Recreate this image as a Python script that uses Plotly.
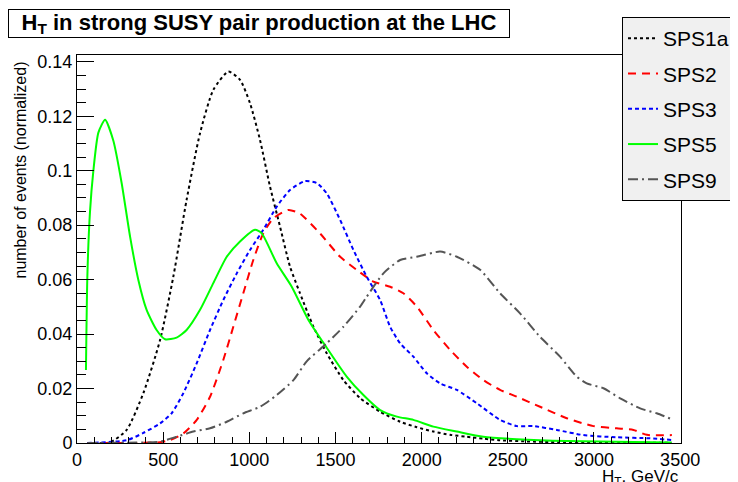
import plotly.graph_objects as go

# ---------------- data ----------------
sps1a_x = [60, 190, 288, 385, 482, 559, 636, 714, 791, 878, 946, 1004, 1062, 1120, 1178, 1236, 1294,
           1372, 1449, 1546, 1643, 1759, 1875, 1972, 2068, 2165, 2262, 2358, 2455, 2600, 2800, 3000, 3200, 3450]
sps1a_y = [0.0, 0.0002, 0.0048, 0.0183, 0.0378, 0.0611, 0.0893, 0.1138, 0.1297, 0.1364, 0.1334, 0.1248,
           0.1113, 0.0942, 0.0795, 0.0648, 0.0550, 0.0427, 0.0330, 0.0231, 0.0165, 0.0115, 0.0078, 0.0058,
           0.0042, 0.0030, 0.0023, 0.0016, 0.0010, 0.0006, 0.0003, 0.0002, 0.0001, 0.0001]

sps2_x = [60, 300, 482, 540, 617, 695, 772, 849, 907, 965, 1023, 1081, 1139, 1227, 1294, 1410, 1527,
          1623, 1720, 1817, 1894, 1972, 2068, 2165, 2262, 2358, 2455, 2552, 2687, 2842, 2997, 3132,
          3229, 3307, 3452]
sps2_y = [0.0, 0.0, 0.0003, 0.0011, 0.0035, 0.0085, 0.0170, 0.0305, 0.0427, 0.0550, 0.0672, 0.0770,
          0.0825, 0.0856, 0.0842, 0.0770, 0.0684, 0.0636, 0.0593, 0.0574, 0.0550, 0.0501, 0.0415,
          0.0342, 0.0280, 0.0231, 0.0195, 0.0170, 0.0133, 0.0091, 0.0062, 0.0054, 0.0048, 0.0030, 0.0029]

sps3_x = [60, 288, 385, 482, 549, 617, 695, 772, 849, 927, 1004, 1081, 1159, 1236, 1323, 1391, 1449,
          1527, 1604, 1681, 1759, 1817, 1875, 1952, 2030, 2107, 2204, 2320, 2455, 2552, 2648, 2784,
          2939, 3132, 3326, 3452]
sps3_y = [0.0, 0.0010, 0.0037, 0.0072, 0.0109, 0.0183, 0.0293, 0.0415, 0.0525, 0.0623, 0.0709, 0.0783,
          0.0868, 0.0929, 0.0962, 0.0955, 0.0917, 0.0819, 0.0709, 0.0611, 0.0525, 0.0427, 0.0366,
          0.0317, 0.0256, 0.0219, 0.0195, 0.0146, 0.0085, 0.0062, 0.0062, 0.0048, 0.0029, 0.0021,
          0.0017, 0.0011]

sps5_x = [52, 60, 75, 95, 124, 163, 211, 259, 308, 356, 404, 462, 511, 578, 636, 714, 791, 869, 946,
          1033, 1072, 1159, 1246, 1343, 1449, 1565, 1662, 1759, 1856, 1952, 2068, 2204, 2358, 2552,
          2842, 3229, 3450]
sps5_y = [0.0268, 0.0610, 0.0845, 0.1000, 0.1140, 0.1187, 0.1110, 0.0955, 0.0758, 0.0599, 0.0489,
          0.0415, 0.0381, 0.0387, 0.0415, 0.0489, 0.0587, 0.0684, 0.0740, 0.0783, 0.0770, 0.0660,
          0.0574, 0.0452, 0.0350, 0.0244, 0.0176, 0.0121, 0.0097, 0.0085, 0.0060, 0.0042, 0.0023,
          0.0014, 0.0007, 0.0004, 0.0002]

sps9_x = [60, 288, 482, 578, 675, 772, 869, 965, 1062, 1159, 1256, 1333, 1449, 1546, 1643, 1681, 1778,
          1875, 1972, 2107, 2204, 2339, 2455, 2571, 2687, 2803, 2900, 2958, 3055, 3152, 3268, 3364, 3452]
sps9_y = [0.0, 0.0001, 0.0005, 0.0023, 0.0042, 0.0054, 0.0078, 0.0109, 0.0133, 0.0176, 0.0231, 0.0300,
          0.0366, 0.0427, 0.0501, 0.0537, 0.0623, 0.0672, 0.0684, 0.0703, 0.0684, 0.0636, 0.0550,
          0.0476, 0.0390, 0.0317, 0.0244, 0.0219, 0.0201, 0.0164, 0.0127, 0.0109, 0.0087]

y_tick_vals = [0, 0.02, 0.04, 0.06, 0.08, 0.1, 0.12, 0.14]
y_tick_text = ["0", "0.02", "0.04", "0.06", "0.08", "0.1", "0.12", "0.14"]
x_tick_vals = [0, 500, 1000, 1500, 2000, 2500, 3000, 3500]
x_tick_text = ["0", "500", "1000", "1500", "2000", "2500", "3000", "3500"]

series = [
    ("SPS1a", sps1a_x, sps1a_y, "#000000", "dot"),
    ("SPS2", sps2_x, sps2_y, "#ff0000", "8px,6px"),
    ("SPS3", sps3_x, sps3_y, "#0000ff", "4px,3px"),
    ("SPS5", sps5_x, sps5_y, "#00ff00", "solid"),
    ("SPS9", sps9_x, sps9_y, "#555555", "10px,4px,2px,4px"),
]

title_text = "<b>H<sub>T</sub> in strong SUSY pair production at the LHC</b>"
x_title = "H<sub>T</sub>, GeV/c"
y_title = "number of events (normalized)"

FONT = "Liberation Sans, Arial, sans-serif"

fig = go.Figure()
for i, (name, xs, ys, col, dash) in enumerate(series):
    fig.add_trace(go.Scatter(
        x=xs, y=ys, mode="lines", name=name, legendgroup=name,
        line=dict(color=col, width=2, dash=dash, shape="spline", smoothing=0.6),
    ))

# page body has an 8px default margin, so the figure is drawn 8px in from the window edge
OFF = 8
W, H = 738 - OFF, 482 - OFF
L, R, T, B = 77 - OFF, 57, 55 - OFF, 39
pw, ph = W - L - R, H - T - B

def px(xs):  # window pixel -> paper x
    return (xs - OFF - L) / pw

def py(ys):  # window pixel -> paper y
    return (H - B - (ys - OFF)) / ph

fig.update_layout(
    width=W, height=H,
    margin=dict(l=L, r=R, t=T, b=B, pad=0, autoexpand=False),
    paper_bgcolor="white", plot_bgcolor="white",
    font=dict(family=FONT, size=18, color="black"),
    showlegend=True,
    legend=dict(
        x=px(622), y=py(17), xanchor="left", yanchor="top",
        bgcolor="#f0f0f0", bordercolor="black", borderwidth=1,
        font=dict(size=21, family=FONT), tracegroupgap=5,
        traceorder="grouped", itemwidth=30,
    ),
    xaxis=dict(
        range=[0, 3505], showgrid=False, zeroline=False,
        showline=True, linecolor="black", linewidth=1, mirror=True,
        ticks="inside", ticklen=11, tickcolor="black",
        tickmode="array", tickvals=x_tick_vals, ticktext=x_tick_text,
        minor=dict(ticks="inside", ticklen=6, dtick=100, tick0=0, tickcolor="black", showgrid=False),
        tickfont=dict(size=18),
    ),
    yaxis=dict(
        range=[0, 0.1425], showgrid=False, zeroline=False,
        showline=True, linecolor="black", linewidth=1, mirror=True,
        ticks="inside", ticklen=17, tickcolor="black",
        tickmode="array", tickvals=y_tick_vals, ticktext=y_tick_text,
        minor=dict(ticks="inside", ticklen=9, dtick=0.005, tick0=0, tickcolor="black", showgrid=False),
        tickfont=dict(size=18),
    ),
    annotations=[
        dict(text=title_text, xref="paper", yref="paper",
             x=px(8), y=py(9), xanchor="left", yanchor="top",
             showarrow=False, font=dict(size=22, family=FONT),
             bordercolor="black", borderwidth=1, bgcolor="white",
             width=498, height=25, borderpad=1, align="center"),
        dict(text=y_title, xref="paper", yref="paper",
             x=px(20), y=py(60), xanchor="center", yanchor="top", textangle=-90,
             showarrow=False, font=dict(size=16, family=FONT)),
        dict(text=x_title, xref="paper", yref="paper",
             x=px(681), y=py(465), xanchor="right", yanchor="top",
             showarrow=False, font=dict(size=17, family=FONT)),
    ],
)

fig.write_html("out.html")
